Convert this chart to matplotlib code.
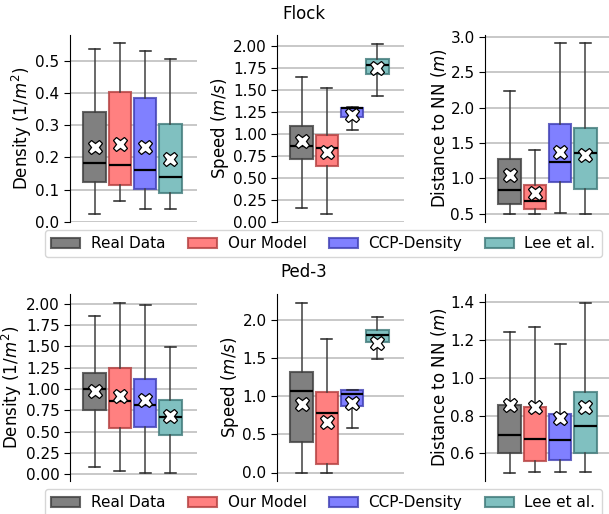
import matplotlib
matplotlib.use("Agg")
import matplotlib.pyplot as plt
from matplotlib.patches import Patch
import numpy as np

models = ["Real Data", "Our Model", "CCP-Density", "Lee et al."]
colors = ["black", "red", "blue", "teal"]

# Flock: [whislo, q1, med, q3, whishi, mean] per model
flock_density = [
    [0.026, 0.123, 0.183, 0.341, 0.536, 0.232],
    [0.065, 0.115, 0.175, 0.404, 0.553, 0.243],
    [0.040, 0.102, 0.161, 0.384, 0.531, 0.233],
    [0.040, 0.090, 0.138, 0.302, 0.504, 0.196],
]
flock_speed = [
    [0.152, 0.710, 0.865, 1.082, 1.643, 0.915],
    [0.095, 0.630, 0.842, 0.990, 1.522, 0.797],
    [1.047, 1.188, 1.288, 1.292, 1.300, 1.210],
    [1.423, 1.677, 1.776, 1.848, 2.023, 1.742],
]
flock_nn = [
    [0.500, 0.638, 0.832, 1.273, 2.231, 1.046],
    [0.500, 0.566, 0.676, 0.903, 1.401, 0.785],
    [0.514, 0.946, 1.235, 1.771, 2.910, 1.378],
    [0.500, 0.851, 1.359, 1.710, 2.910, 1.335],
]

# Ped-3
ped_density = [
    [0.086, 0.749, 1.004, 1.188, 1.859, 0.980],
    [0.039, 0.545, 0.863, 1.247, 2.012, 0.914],
    [0.020, 0.553, 0.808, 1.118, 1.980, 0.871],
    [0.020, 0.459, 0.667, 0.867, 1.494, 0.682],
]
ped_speed = [
    [0.000, 0.399, 1.070, 1.316, 2.228, 0.899],
    [0.000, 0.110, 0.776, 1.053, 1.746, 0.658],
    [0.583, 0.873, 1.035, 1.079, 1.079, 0.917],
    [1.491, 1.715, 1.798, 1.868, 2.035, 1.697],
]
ped_nn = [
    [0.499, 0.600, 0.697, 0.858, 1.242, 0.855],
    [0.500, 0.558, 0.678, 0.844, 1.271, 0.848],
    [0.500, 0.563, 0.669, 0.811, 1.182, 0.786],
    [0.500, 0.605, 0.747, 0.926, 1.400, 0.848],
]

ylabels = ["Density (1/$m^2$)", "Speed ($m/s$)", "Distance to NN ($m$)"]
flock_ticks = [np.arange(0, 0.51, 0.1), np.arange(0, 2.01, 0.25), np.arange(0.5, 3.01, 0.5)]
ped_ticks = [np.arange(0, 2.01, 0.25), np.arange(0, 2.01, 0.5), np.arange(0.6, 1.41, 0.2)]
flock_fmt = ["{:.1f}", "{:.2f}", "{:.1f}"]
ped_fmt = ["{:.2f}", "{:.1f}", "{:.1f}"]

W, H = 609, 514
fig = plt.figure(figsize=(W / 100, H / 100), dpi=100)


def face(c, a):
    rgb = np.array(matplotlib.colors.to_rgb(c))
    return tuple(1 - a + a * rgb)


def edge(c):
    rgb = np.array(matplotlib.colors.to_rgb(c))
    return tuple(list(rgb * 0.45 + 0.25) + [0.8])


def draw_panel(ax, data, ylabel, ticks, fmt):
    stats = []
    for i, d in enumerate(data):
        stats.append(dict(whislo=d[0], q1=d[1], med=d[2], q3=d[3], whishi=d[4],
                          mean=d[5], fliers=[], label=models[i]))
    pos = np.arange(len(data))
    bp = ax.bxp(stats, positions=pos, widths=0.88, patch_artist=True, showmeans=True,
                medianprops=dict(color="black", lw=1.6),
                whiskerprops=dict(color="0.25", lw=1.1),
                capprops=dict(color="0.15", lw=1.1),
                meanprops=dict(marker="X", markerfacecolor="white", markeredgecolor="black",
                               markersize=10.5, markeredgewidth=0.9))
    for b, c in zip(bp["boxes"], colors):
        b.set_facecolor(face(c, 0.5))
        b.set_edgecolor(edge(c))
        b.set_linewidth(1.5)
    ax.set_xlim(-0.97, 4.05)
    ax.set_xticks([])
    ax.set_yticks(ticks)
    ax.set_yticklabels([fmt.format(t) for t in ticks], fontsize=11)
    ax.set_ylabel(ylabel, fontsize=12, labelpad=1)
    ax.yaxis.grid(True, color="0.75", lw=1.2)
    ax.set_axisbelow(True)
    for s in ["top", "right", "bottom"]:
        ax.spines[s].set_visible(False)
    ax.tick_params(axis="y", length=4)
    ax.tick_params(axis="x", length=0)


lefts = [70, 277, 485]
aw = 127
ah = 187
rows = [
    (35, [flock_density, flock_speed, flock_nn], flock_ticks, flock_fmt),
    (294, [ped_density, ped_speed, ped_nn], ped_ticks, ped_fmt),
]
for top, datas, ticks, fmts in rows:
    for j in range(3):
        ax = fig.add_axes([lefts[j] / W, 1 - (top + ah) / H, aw / W, ah / H])
        draw_panel(ax, datas[j], ylabels[j], ticks[j], fmts[j])

fig.text(304 / W, 1 - 14 / H, "Flock", ha="center", va="center", fontsize=12)
fig.text(304 / W, 1 - 272 / H, "Ped-3", ha="center", va="center", fontsize=12)

handles = [Patch(facecolor=face(c, 0.5), edgecolor=edge(c), lw=1.5) for c in colors]
for ly in [230, 489]:
    fig.legend(handles, models, loc="upper left", bbox_to_anchor=(45 / W, 1 - ly / H),
               ncol=4, fontsize=11, frameon=True, handlelength=1.9, handleheight=0.6,
               handletextpad=0.7, columnspacing=1.47, borderpad=0.4, borderaxespad=0)

fig.savefig("out.png", dpi=100)
